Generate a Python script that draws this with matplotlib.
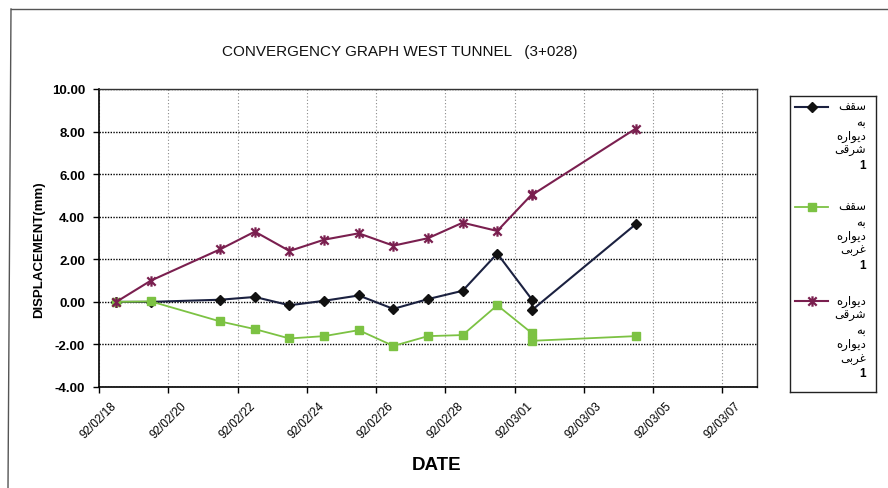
import matplotlib
matplotlib.use("Agg")
import matplotlib.pyplot as plt
from matplotlib.lines import Line2D
from matplotlib.path import Path

# ---- data -------------------------------------------------------------
# measurement times, in days after 92/02/18
days = [0.5, 1.5, 3.5, 4.5, 5.5, 6.5, 7.5, 8.5, 9.5, 10.5, 11.5, 12.5, 12.5, 15.5]

# convergence readings (mm)
roof_to_east_wall = [0.00, 0.00, 0.10, 0.23, -0.16, 0.05, 0.30, -0.33, 0.13,
                     0.52, 2.27, 0.11, -0.39, 3.65]
roof_to_west_wall = [0.00, 0.02, -0.92, -1.28, -1.72, -1.61, -1.33, -2.07,
                     -1.61, -1.56, -0.16, -1.47, -1.83, -1.61]
east_to_west_wall = [0.00, 1.00, 2.47, 3.30, 2.39, 2.92, 3.22, 2.64, 2.99,
                     3.72, 3.33, 5.05, 5.02, 8.14]

x_tick_days = [0, 2, 4, 6, 8, 10, 12, 14, 16, 18]
x_tick_labels = ["92/02/18", "92/02/20", "92/02/22", "92/02/24", "92/02/26",
                 "92/02/28", "92/03/01", "92/03/03", "92/03/05", "92/03/07"]
y_ticks = [-4, -2, 0, 2, 4, 6, 8, 10]

# Persian legend labels, one list entry per line.  matplotlib has no Arabic
# shaping, so the words are written with presentation forms in display order.
SAGHF = "\uFED2\uFED8\uFEB3"                             # سقف
BE = "\uFEEA\uFE91"                                       # به
DIVARE = "\uFEE9\uFEAD\uFE8D\uFEEE\uFBFE\uFEA9"           # دیواره
SHARGHI = "\uFBFD\uFED7\uFEAE\uFEB7"                      # شرقی
GHARBI = "\uFBFD\uFE91\uFEAE\uFECF"                       # غربی
label_roof_east = [SAGHF, BE, DIVARE, SHARGHI, "1"]
label_roof_west = [SAGHF, BE, DIVARE, GHARBI, "1"]
label_east_west = [DIVARE, SHARGHI, BE, DIVARE, GHARBI, "1"]

# ---- styles -----------------------------------------------------------
NAVY = "#1b2140"
GREEN = "#7cc243"
MAROON = "#7a1f4f"
SANS = ["Liberation Sans", "DejaVu Sans"]

star = Path([(-1, -1), (1, 1), (-1, 1), (1, -1), (0, -1.25), (0, 1.25)],
            [Path.MOVETO, Path.LINETO, Path.MOVETO, Path.LINETO,
             Path.MOVETO, Path.LINETO])

styles = [
    dict(color=NAVY, lw=1.5, marker="D", ms=5, mfc="#111111", mec="#111111"),
    dict(color=GREEN, lw=1.3, marker="s", ms=6, mfc=GREEN, mec=GREEN),
    dict(color=MAROON, lw=1.5, marker=star, ms=7.5, mew=1.6, mfc=MAROON, mec=MAROON),
]

W, H = 888, 489
plt.rcParams["font.family"] = SANS

fig = plt.figure(figsize=(W / 100, H / 100), dpi=100)
fig.patch.set_facecolor("white")


def fx(px):
    return px / W


def fy(py):
    return 1 - py / H


# thin frame around the chart area
fig.add_artist(Line2D([fx(11), 1.0], [fy(10), fy(10)], transform=fig.transFigure,
                      color="#555555", lw=1.0))
fig.add_artist(Line2D([fx(11), fx(8)], [fy(10), 0.0], transform=fig.transFigure,
                      color="#555555", lw=1.0))

ax = fig.add_axes([fx(99), fy(388), (757 - 99) / W, (388 - 90) / H])

series = [roof_to_east_wall, roof_to_west_wall, east_to_west_wall]
for values, st in zip(series, styles):
    ax.plot(days, values, zorder=3, clip_on=False, **st)

ax.set_xlim(0, 19)
ax.set_ylim(-4, 10)

ax.set_xticks(x_tick_days)
ax.set_xticklabels(x_tick_labels, rotation=45, ha="center", fontsize=8.5)
ax.set_yticks(y_ticks)
ax.set_yticklabels([f"{v:.2f}" for v in y_ticks], fontsize=9.5, fontweight="bold")
ax.tick_params(axis="x", direction="out", length=4, width=1, pad=5, colors="black")
ax.tick_params(axis="y", direction="out", length=4, width=1, pad=6, colors="black")

ax.grid(axis="y", color="black", linestyle=(0, (1, 1)), lw=1.0, zorder=1)
ax.grid(axis="x", color="#8a8a8a", linestyle=(0, (1, 2)), lw=0.8, zorder=1)
ax.set_axisbelow(True)

for side in ("left", "bottom"):
    ax.spines[side].set_color("black")
    ax.spines[side].set_linewidth(1.2)
for side in ("top", "right"):
    ax.spines[side].set_color("#333333")
    ax.spines[side].set_linewidth(1.0)

# titles
fig.text(fx(400), fy(52), "CONVERGENCY GRAPH WEST TUNNEL   (3+028)",
         ha="center", va="center", fontsize=11, color="#111111")
fig.text(fx(437), fy(466), "DATE", ha="center", va="center",
         fontsize=13.5, fontweight="bold")
fig.text(fx(39), fy(250), "DISPLACEMENT(mm)", ha="center", va="center",
         rotation=90, fontsize=9.5, fontweight="bold")

# legend, drawn in its own box (pixel coordinates inside the box)
lax = fig.add_axes([fx(790), fy(393), (876 - 790) / W, (393 - 97) / H])
lax.set_xlim(790, 876)
lax.set_ylim(393, 97)
lax.set_xticks([])
lax.set_yticks([])
for sp in lax.spines.values():
    sp.set_color("#222222")
    sp.set_linewidth(1.0)

legend_rows = [(108, label_roof_east), (208, label_roof_west), (302, label_east_west)]
for (y0, lines), st in zip(legend_rows, styles):
    kw = dict(st)
    marker_kw = {k: kw.pop(k) for k in ("marker", "ms", "mfc", "mec", "mew") if k in kw}
    lax.add_line(Line2D([795, 828], [y0, y0], **kw))
    lax.add_line(Line2D([812], [y0], color=st["color"], **marker_kw))
    for i, txt in enumerate(lines):
        lax.text(866, y0 + i * 14.4, txt, ha="right", va="center",
                 fontsize=8.5, family=SANS,
                 fontweight="bold" if txt == "1" else "normal")

fig.savefig("out.png", dpi=100, facecolor="white")
